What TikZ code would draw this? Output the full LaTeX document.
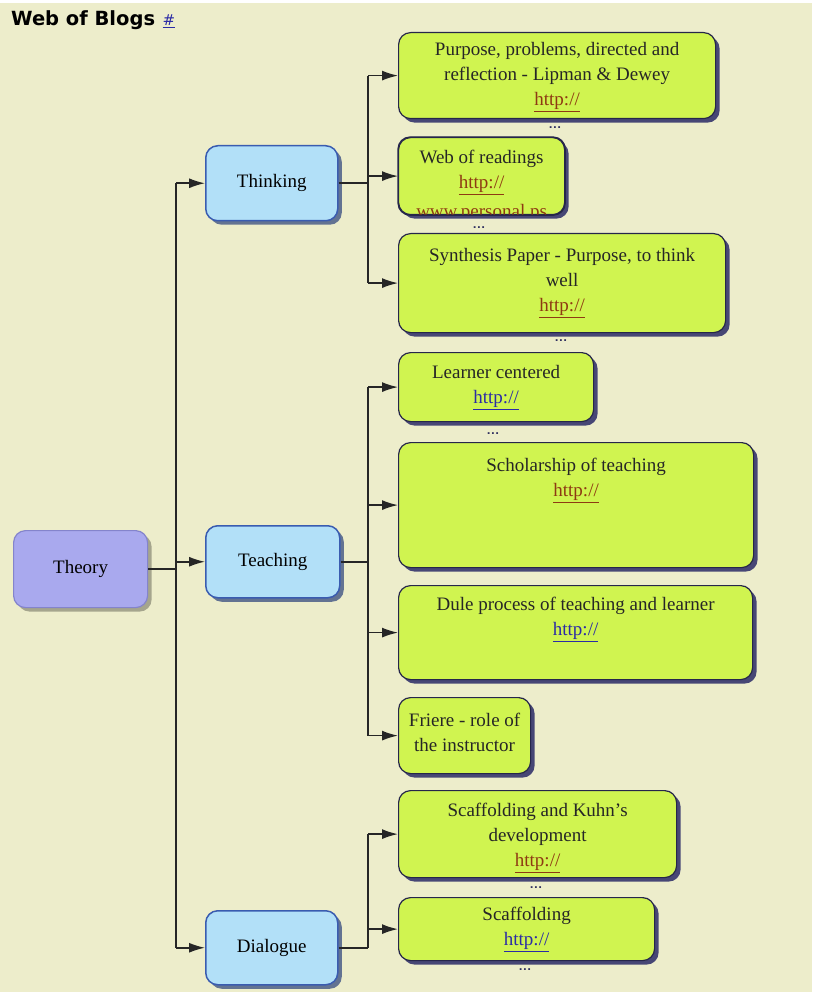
\documentclass[tikz,border=0pt]{standalone}
\usepackage{fontspec}
\setmainfont{Liberation Serif}
\newfontfamily\headfont{DejaVu Sans}
\usetikzlibrary{arrows.meta,shadows}

\definecolor{paper}{HTML}{EDEDCB}
\definecolor{leaf}{HTML}{D0F450}
\definecolor{leafline}{HTML}{26264A}
\definecolor{leafshade}{HTML}{2A2A66}
\definecolor{sky}{HTML}{B2E0F8}
\definecolor{skyline}{HTML}{3A5CB0}
\definecolor{lilac}{HTML}{A9A9EE}
\definecolor{lilacline}{HTML}{8484CC}
\definecolor{linkred}{HTML}{8E3A12}
\definecolor{linkblue}{HTML}{2B2BA5}
\definecolor{dotblue}{HTML}{303060}

\newcommand\lnk[2]{\textcolor{#1}{\underline{#2}}}

\begin{document}
\begin{tikzpicture}[x=1pt,y=-1pt,
  txt/.style={inner sep=0pt, font=\fontsize{19}{25}\selectfont, align=center, text=black!85, anchor=north},
  leafbox/.style={draw=leafline, line width=1.2pt, fill=leaf, rounded corners=12pt,
    inner sep=0pt, anchor=north west,
    drop shadow={shadow xshift=4pt, shadow yshift=-4pt, fill=leafshade, opacity=0.85}},
  skybox/.style={draw=skyline, line width=1.5pt, fill=sky, rounded corners=12pt,
    inner sep=0pt, anchor=north west, font=\fontsize{19}{25}\selectfont,
    drop shadow={shadow xshift=4pt, shadow yshift=-4pt, fill=skyline!70!black, opacity=0.7}},
  rootbox/.style={draw=lilacline, line width=1.2pt, fill=lilac, rounded corners=12pt,
    inner sep=0pt, anchor=north west, font=\fontsize{19}{25}\selectfont,
    drop shadow={shadow xshift=4pt, shadow yshift=-4pt, fill=black, opacity=0.3}},
  wire/.style={draw=black!85, line width=1.5pt},
  arr/.style={wire, -{Latex[length=16pt,width=10pt]}},
  more/.style={inner sep=0pt, anchor=base, text=dotblue, font=\sffamily\bfseries\fontsize{14}{14}\selectfont}
]
% page
\fill[paper] (0,0) rectangle (812,992);
\fill[white] (0,0) rectangle (812,3);
\useasboundingbox (0,0) rectangle (812,992);

% heading
\node[anchor=base west, inner sep=0pt, font=\headfont\bfseries\fontsize{19.5}{20}\selectfont] (title) at (11,26) {Web of Blogs};
\node[anchor=base west, inner sep=0pt, font=\headfont\fontsize{15}{15}\selectfont] (hash) at ([xshift=7pt]title.base east) {\lnk{linkblue}{\#}};

% main boxes
\node[rootbox, minimum width=134pt, minimum height=77pt] (theory) at (13,530) {Theory};
\node[skybox, minimum width=132pt, minimum height=75pt] (thinking) at (205,145) {Thinking};
\node[skybox, minimum width=134pt, minimum height=72pt] (teaching) at (205,525) {Teaching};
\node[skybox, minimum width=132pt, minimum height=74pt] (dialogue) at (205,910) {Dialogue};

% leaf boxes
\node[leafbox, minimum width=317pt, minimum height=86pt] (purpose) at (398,32) {};
\node[leafbox, minimum width=166pt, minimum height=77pt] (readings) at (398,137) {};
\node[leafbox, minimum width=327pt, minimum height=99pt] (synthesis) at (398,233) {};
\node[leafbox, minimum width=195pt, minimum height=69pt] (learner) at (398,352) {};
\node[leafbox, minimum width=355pt, minimum height=125pt] (scholar) at (398,442) {};
\node[leafbox, minimum width=354pt, minimum height=94pt] (dule) at (398,585) {};
\node[leafbox, minimum width=132pt, minimum height=76pt] (friere) at (398,697) {};
\node[leafbox, minimum width=278pt, minimum height=87pt] (kuhn) at (398,790) {};
\node[leafbox, minimum width=256pt, minimum height=63pt] (scaffold) at (398,897) {};

% leaf texts
\node[txt] (purposeT) at ([yshift=-10pt]purpose.north) {Purpose, problems, directed and\\reflection - Lipman \& Dewey\\\lnk{linkred}{http://}};
\node[txt] (readingsT) at ([yshift=-13pt]readings.north) {Web of readings\\\lnk{linkred}{http://}};
% the third line runs past the bottom edge and is cut off by it
\begin{scope}
  \clip[rounded corners=12pt] (readings.south west) rectangle (readings.north east);
  \node[txt, anchor=base] (readingsU) at ([yshift=-2pt]readings.south) {\smash{\lnk{linkred}{www.personal.ps}}};
\end{scope}
\draw[draw=leafline, line width=1.2pt, rounded corners=12pt] (readings.south west) rectangle (readings.north east);
\node[txt] (synthesisT) at ([yshift=-15pt]synthesis.north) {Synthesis Paper - Purpose, to think\\well\\\lnk{linkred}{http://}};
\node[txt] (learnerT) at ([yshift=-13pt]learner.north) {Learner centered\\\lnk{linkblue}{http://}};
\node[txt] (scholarT) at ([yshift=-16pt]scholar.north) {Scholarship of teaching\\\lnk{linkred}{http://}};
\node[txt] (duleT) at ([yshift=-12pt]dule.north) {Dule process of teaching and learner\\\lnk{linkblue}{http://}};
\node[txt] (friereT) at ([yshift=-16pt]friere.north) {Friere - role of\\the instructor};
\node[txt] (kuhnT) at ([yshift=-13pt]kuhn.north) {Scaffolding and Kuhn's\\development\\\lnk{linkred}{http://}};
\node[txt] (scaffoldT) at ([yshift=-10pt]scaffold.north) {Scaffolding\\\lnk{linkblue}{http://}};

% "more" markers under truncated boxes
\node[more] (purposeM) at (555,129) {...};
\node[more] (readingsM) at (479,229) {...};
\node[more] (synthesisM) at (561,341) {...};
\node[more] (learnerM) at (493,434) {...};
\node[more] (kuhnM) at (536,888) {...};
\node[more] (scaffoldM) at (525,970) {...};

% trunk from the root
\coordinate (trunk) at (176,0);
\draw[wire] (theory.east) -- (theory.east -| trunk);
\draw[wire] (thinking.west -| trunk) -- (dialogue.west -| trunk);
\foreach \n in {thinking,teaching,dialogue}
  \draw[arr] (\n.west -| trunk) -- (\n.west);

% branches
\coordinate (branch) at (368,0);
\draw[wire] (thinking.east) -- (thinking.east -| branch);
\draw[wire] (purpose.west -| branch) -- (synthesis.west -| branch);
\foreach \n in {purpose,readings,synthesis}
  \draw[arr] (\n.west -| branch) -- (\n.west);

\draw[wire] (teaching.east) -- (teaching.east -| branch);
\draw[wire] (learner.west -| branch) -- (friere.west -| branch);
\foreach \n in {learner,scholar,dule,friere}
  \draw[arr] (\n.west -| branch) -- (\n.west);

\draw[wire] (dialogue.east) -- (dialogue.east -| branch);
\draw[wire] (kuhn.west -| branch) -- (dialogue.east -| branch);
\foreach \n in {kuhn,scaffold}
  \draw[arr] (\n.west -| branch) -- (\n.west);
\end{tikzpicture}
\end{document}
